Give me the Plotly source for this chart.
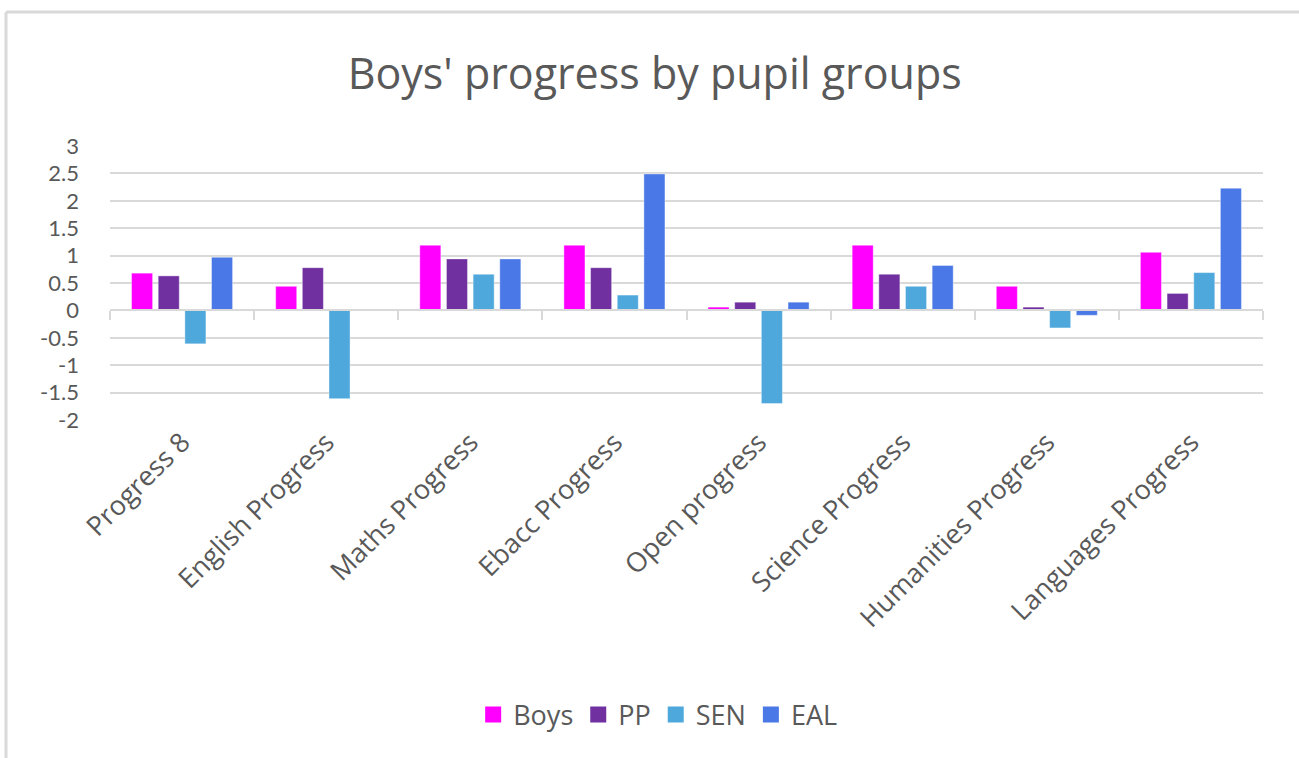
import plotly.graph_objects as go

categories = ["Progress 8", "English Progress", "Maths Progress", "Ebacc Progress",
              "Open progress", "Science Progress", "Humanities Progress", "Languages Progress"]
boys = [0.68, 0.44, 1.19, 1.19, 0.06, 1.19, 0.44, 1.06]
pp = [0.63, 0.78, 0.94, 0.78, 0.15, 0.66, 0.06, 0.31]
sen = [-0.61, -1.61, 0.66, 0.28, -1.70, 0.44, -0.32, 0.69]
eal = [0.97, 0.0, 0.94, 2.49, 0.15, 0.82, -0.09, 2.23]
series_names = ["Boys", "PP", "SEN", "EAL"]
colors = ["#FF00FF", "#7030A0", "#4FA8DC", "#4A78E6"]
y_ticks = [3, 2.5, 2, 1.5, 1, 0.5, 0, -0.5, -1, -1.5, -2]
y_tick_text = ["3", "2.5", "2", "1.5", "1", "0.5", "0", "-0.5", "-1", "-1.5", "-2"]

W, H = 1299, 758
ML, MR, MT, MB = 110, 36, 146, 338
YMIN, YMAX = -2, 3
font_fam = "'Open Sans', Lato, sans-serif"
tick_fam = "Lato, 'Open Sans', sans-serif"
txt = "#595959"

fig = go.Figure()
for name, vals, col in zip(series_names, [boys, pp, sen, eal], colors):
    fig.add_trace(go.Bar(x=categories, y=vals, name=name, marker_color=col, showlegend=False,
                         marker_line=dict(color="rgba(255,255,255,0.5)", width=0.8)))
# legend entries with larger square symbols
for name, col in zip(series_names, colors):
    fig.add_trace(go.Scatter(x=[None], y=[None], name=name, mode="markers",
                             marker=dict(symbol="square", size=17, color=col)))
# invisible trace for the overlay axis drawn at y = 0
fig.add_trace(go.Scatter(x=categories, y=[0] * len(categories), xaxis="x2", mode="markers",
                         marker=dict(opacity=0), showlegend=False, hoverinfo="skip"))

plot_h = H - MT - MB
plot_w = W - ML - MR
zero_pos = (0 - YMIN) / (YMAX - YMIN)

fig.update_layout(
    width=W, height=H,
    margin=dict(l=ML, r=MR, t=MT, b=MB),
    paper_bgcolor="white", plot_bgcolor="white",
    title=dict(text="Boys' progress by pupil groups", x=0.504, xanchor="center",
               y=1 - 74 / H, yanchor="middle",
               font=dict(family=font_fam, size=43, color=txt)),
    barmode="group", bargap=0.26, bargroupgap=0.21,
    xaxis=dict(type="category", categoryarray=categories, range=[-0.5, 7.5],
               showgrid=False, showline=False, ticks="", tickangle=-45,
               tickfont=dict(family=font_fam, size=27, color=txt)),
    xaxis2=dict(type="category", categoryarray=categories, range=[-0.5, 7.5],
                overlaying="x", anchor="free", position=zero_pos, side="bottom",
                showgrid=False, showline=True, linecolor="#d9d9d9", linewidth=2,
                ticks="outside", tickson="boundaries", ticklen=9, tickwidth=2,
                tickcolor="#d9d9d9", showticklabels=False),
    yaxis=dict(range=[YMIN, YMAX], tickvals=y_ticks, ticktext=y_tick_text,
               showgrid=True, gridcolor="#d9d9d9", gridwidth=2, zeroline=False,
               showline=False, ticks="", ticklabelstandoff=30,
               tickfont=dict(family=tick_fam, size=22, color=txt)),
    legend=dict(orientation="h", x=0.475, xanchor="center",
                y=-(715 - (H - MB)) / plot_h,
                yanchor="middle", font=dict(family=font_fam, size=27, color=txt),
                itemwidth=30, traceorder="normal"),
)

# chart-area border (left and top edges, as in the reference)
left_x = (6 - ML) / plot_w
top_y = 1 + (MT - 12) / plot_h
fig.add_shape(type="line", xref="paper", yref="paper", x0=left_x, x1=left_x,
              y0=top_y, y1=-(MB + 10) / plot_h, line=dict(color="#d9d9d9", width=3))
fig.add_shape(type="line", xref="paper", yref="paper", x0=left_x, x1=1 + (MR + 10) / plot_w,
              y0=top_y, y1=top_y, line=dict(color="#d9d9d9", width=3))

fig.write_html("out.html", config={"displayModeBar": False},
               post_script="document.body.style.margin='0';")
